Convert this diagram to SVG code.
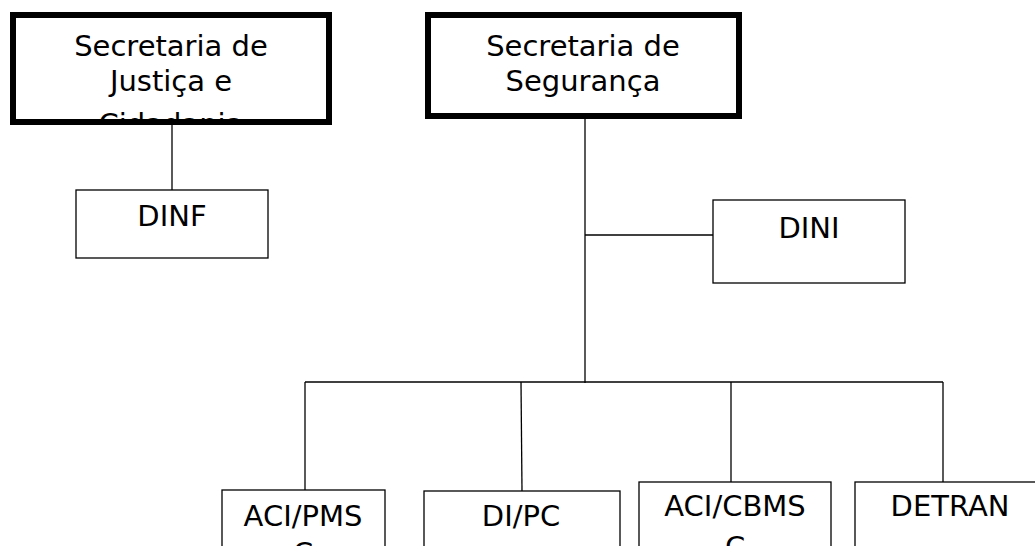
<svg xmlns="http://www.w3.org/2000/svg" width="1035" height="546" viewBox="0 0 1035 546">
<style>
  .t { font-family: "DejaVu Sans", sans-serif; font-size: 29px; fill: #000; text-anchor: middle; }
  .thick { fill: #fff; stroke: #000; stroke-width: 6; }
  .thin { fill: #fff; stroke: #000; stroke-width: 1.3; }
  .c { stroke: #000; stroke-width: 1.3; fill: none; }
</style>
<defs>
  <clipPath id="clipSJC"><rect x="16" y="18" width="310" height="101"/></clipPath>
  <clipPath id="clipSSP"><rect x="431" y="18" width="305" height="95"/></clipPath>
</defs>
<rect width="1035" height="546" fill="#fff"/>
<g id="connectors">
  <line class="c" x1="172" y1="122" x2="172" y2="190"/>
  <line class="c" x1="585" y1="119" x2="585" y2="383"/>
  <line class="c" x1="585" y1="235" x2="713" y2="235"/>
  <line class="c" x1="305" y1="382" x2="943" y2="382"/>
  <line class="c" x1="305" y1="382" x2="305" y2="490"/>
  <line class="c" x1="521" y1="382" x2="522" y2="491"/>
  <line class="c" x1="731" y1="382" x2="731" y2="482"/>
  <line class="c" x1="943" y1="382" x2="943" y2="482"/>
</g>
<g id="sjc">
  <rect class="thick" x="13" y="15" width="316" height="107"/>
  <g clip-path="url(#clipSJC)">
    <text class="t" x="171" y="56">Secretaria de</text>
    <text class="t" x="171" y="91">Justiça e</text>
    <text class="t" x="171" y="134">Cidadania</text>
  </g>
</g>
<g id="ssp">
  <rect class="thick" x="428" y="15" width="311" height="101"/>
  <g clip-path="url(#clipSSP)">
    <text class="t" x="583" y="56">Secretaria de</text>
    <text class="t" x="583" y="91">Segurança</text>
  </g>
</g>
<g id="dinf">
  <rect class="thin" x="76" y="190" width="192" height="68"/>
  <text class="t" x="172" y="226">DINF</text>
</g>
<g id="dini">
  <rect class="thin" x="713" y="200" width="192" height="83"/>
  <text class="t" x="809" y="238">DINI</text>
</g>
<g id="acipms">
  <rect class="thin" x="222" y="490" width="163" height="80"/>
  <text class="t" x="303" y="526">ACI/PMS</text>
  <text class="t" x="303" y="563">C</text>
</g>
<g id="dipc">
  <rect class="thin" x="424" y="491" width="196" height="80"/>
  <text class="t" x="521" y="526">DI/PC</text>
</g>
<g id="acicbms">
  <rect class="thin" x="639" y="482" width="192" height="80"/>
  <text class="t" x="735" y="516">ACI/CBMS</text>
  <text class="t" x="735" y="557">C</text>
</g>
<g id="detran">
  <rect class="thin" x="855" y="482" width="192" height="80"/>
  <text class="t" x="950" y="516">DETRAN</text>
</g>
</svg>
